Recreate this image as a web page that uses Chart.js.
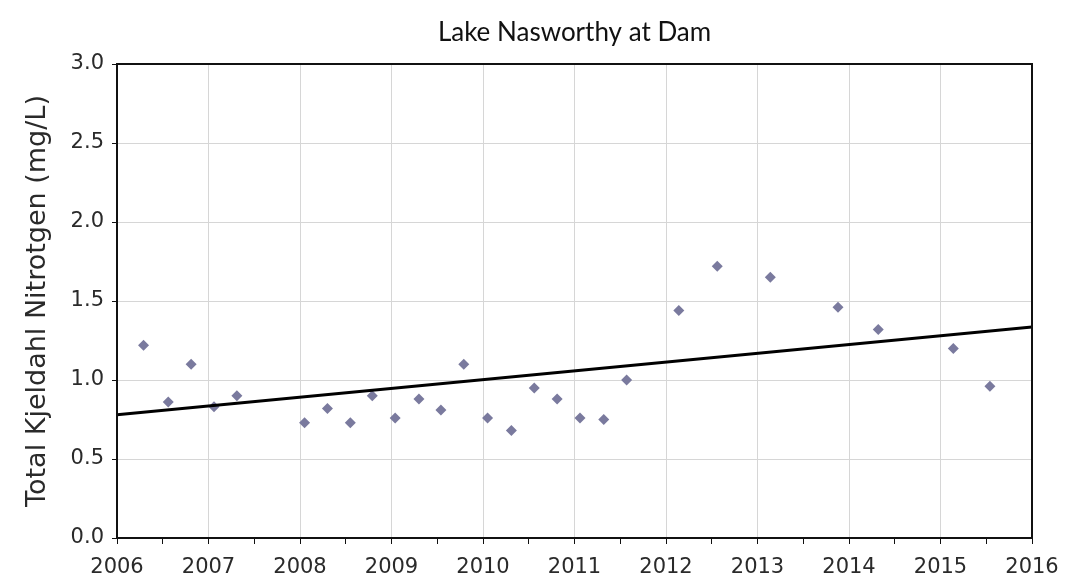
<!DOCTYPE html>
<html>
<head>
<meta charset="utf-8">
<script src="https://cdn.jsdelivr.net/npm/chart.js@4.4.1/dist/chart.umd.min.js"></script>
<style>
  html, body { margin: 0; padding: 0; background: #fff; }
  #wrap { width: 1076px; height: 583px; }
</style>
</head>
<body>
<div id="wrap"><canvas id="tkn"></canvas></div>
<script>
// sample dates (decimal year) and TKN values
var sampleYears = [2006.29, 2006.56, 2006.81, 2007.06, 2007.31, 2008.05, 2008.30, 2008.55, 2008.79,
    2009.04, 2009.30, 2009.54, 2009.79, 2010.05, 2010.31, 2010.56, 2010.81, 2011.06, 2011.32,
    2011.57, 2012.14, 2012.56, 2013.14, 2013.88, 2014.32, 2015.14, 2015.54];
var tknValues = [1.22, 0.86, 1.10, 0.83, 0.90, 0.73, 0.82, 0.73, 0.90,
    0.76, 0.88, 0.81, 1.10, 0.76, 0.68, 0.95, 0.88, 0.76, 0.75,
    1.00, 1.44, 1.72, 1.65, 1.46, 1.32, 1.20, 0.96];

// linear trend, end points
var trendYears = [2006, 2016];
var trendValues = [0.78, 1.335];

var yearTicks = [2006, 2007, 2008, 2009, 2010, 2011, 2012, 2013, 2014, 2015, 2016];
var title = 'Lake Nasworthy at Dam';
var yTitle = 'Total Kjeldahl Nitrotgen (mg/L)';

function toPoints(xs, ys) {
    var ret = [];
    for (var i = 0; i < xs.length; i++) {
        ret.push({x: xs[i], y: ys[i]});
    }
    return ret;
}

var tickFont = "'DejaVu Sans', sans-serif";
var titleFont = "'Lato', 'Noto Sans', sans-serif";

// frame around the plot area + title centred over the plot
var framePlugin = {
    id: 'frame',
    afterDraw: function(chart) {
        var a = chart.chartArea;
        var ctx = chart.ctx;
        ctx.save();
        ctx.strokeStyle = '#111';
        ctx.lineWidth = 2;
        ctx.strokeRect(a.left, a.top, a.right - a.left, a.bottom - a.top);

        ctx.fillStyle = '#111';
        ctx.font = '26px ' + titleFont;
        ctx.textAlign = 'center';
        ctx.textBaseline = 'middle';
        ctx.fillText(title, (a.left + a.right) / 2, 33);
        ctx.restore();
    }
};

new Chart(document.getElementById('tkn').getContext('2d'), {
    type: 'scatter',
    data: {
        datasets: [{
            label: 'TKN',
            data: toPoints(sampleYears, tknValues),
            pointStyle: 'rectRot',
            pointRadius: 5.5,
            pointBackgroundColor: '#7a7a9e',
            pointBorderColor: '#7a7a9e',
            borderWidth: 0,
            order: 2
        }, {
            type: 'line',
            label: 'Trend',
            data: toPoints(trendYears, trendValues),
            borderColor: '#000',
            borderWidth: 3,
            pointRadius: 0,
            fill: false,
            order: 1
        }]
    },
    plugins: [framePlugin],
    options: {
        responsive: true,
        maintainAspectRatio: false,
        animation: false,
        layout: { padding: { left: 0, right: 44, top: 64, bottom: 0 } },
        plugins: {
            legend: { display: false },
            tooltip: { enabled: false },
            title: { display: false }
        },
        scales: {
            x: {
                type: 'linear',
                min: 2006,
                max: 2016,
                afterFit: function(s) { s.height = 45; },
                afterBuildTicks: function(s) {
                    var t = [];
                    for (var v = 2006; v <= 2016; v += 0.5) t.push({value: v});
                    s.ticks = t;
                },
                ticks: {
                    autoSkip: false,
                    maxRotation: 0,
                    padding: 11,
                    color: '#2a2a2a',
                    font: { family: tickFont, size: 21 },
                    callback: function(v) {
                        return yearTicks.indexOf(v) >= 0 ? String(v) : '';
                    }
                },
                grid: {
                    color: function(c) {
                        return (c.tick && c.tick.value % 1 === 0) ? '#d6d6d6' : 'rgba(0,0,0,0)';
                    },
                    tickColor: '#111',
                    tickLength: 6,
                    lineWidth: 1
                },
                border: { color: '#111', width: 2 }
            },
            y: {
                min: 0,
                max: 3,
                afterFit: function(s) { s.width = 117; },
                ticks: {
                    stepSize: 0.5,
                    padding: 8,
                    color: '#2a2a2a',
                    font: { family: tickFont, size: 21 },
                    callback: function(v) { return v.toFixed(1); }
                },
                grid: {
                    color: '#d6d6d6',
                    tickColor: '#111',
                    tickLength: 5,
                    lineWidth: 1
                },
                border: { color: '#111', width: 2 },
                title: {
                    display: true,
                    text: yTitle,
                    color: '#2a2a2a',
                    font: { family: tickFont, size: 27 },
                    padding: { top: 22, bottom: 0 }
                }
            }
        }
    }
});
</script>
</body>
</html>
